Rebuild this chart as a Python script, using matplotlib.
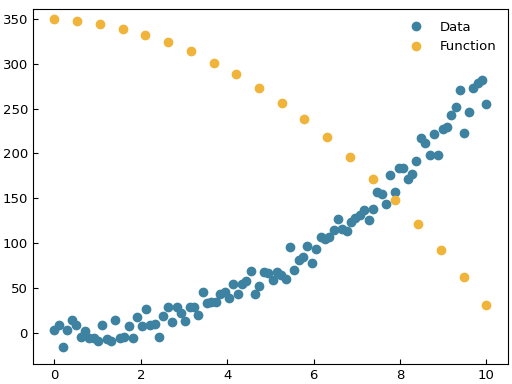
import numpy as np
import matplotlib
matplotlib.use("Agg")
import matplotlib.pyplot as plt

# measured points (evenly spaced in x from 0 to 10)
data_y = [3, 9, -16, 3, 14, 9, -4, 2, -5, -5,
          -9, 9, -7, -9, 14, -5, -4, 8, -6, 18,
          8, 27, 9, 10, -4, 19, 29, 12, 29, 22,
          13, 29, 29, 20, 46, 34, 35, 35, 43, 46,
          39, 55, 44, 55, 58, 69, 43, 52, 68, 67,
          59, 68, 65, 60, 96, 70, 81, 85, 97, 78,
          94, 107, 105, 107, 115, 127, 116, 114, 124, 128,
          131, 137, 126, 138, 157, 155, 144, 176, 157, 184,
          184, 172, 177, 192, 217, 212, 198, 222, 198, 227,
          229, 243, 252, 271, 223, 246, 273, 278, 282, 255]

func_y = [350, 348, 344, 339, 332, 324, 314, 301, 288, 273,
          256, 238, 218, 196, 172, 148, 121, 92, 62, 31]

data_x = np.linspace(0, 10, len(data_y))
func_x = np.linspace(0, 10, len(func_y))

fig = plt.figure(figsize=(5.12, 3.84), dpi=100)
ax = fig.add_axes([0.064, 0.052, 0.928, 0.925])

ax.plot(data_x, data_y, 'o', color='#3d82a0', ms=6, label='Data')
ax.plot(func_x, func_y, 'o', color='#f0b43a', ms=6, label='Function')

ax.set_xlim(-0.5, 10.5)
ax.set_ylim(-34.5, 361)
ax.set_xticks([0, 2, 4, 6, 8, 10])
ax.set_yticks(range(0, 351, 50))
ax.tick_params(direction='in', labelsize=9.5)
ax.legend(loc='upper right', frameon=False, fontsize=9.5)

fig.savefig("out.png", dpi=100)
